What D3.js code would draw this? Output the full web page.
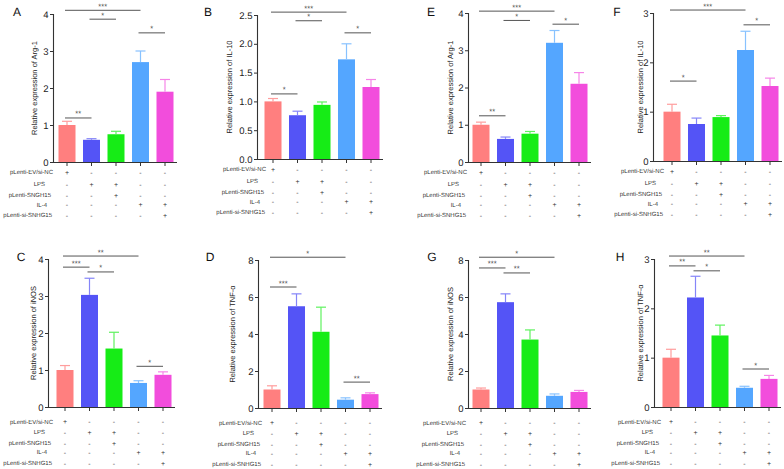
<!DOCTYPE html>
<html><head><meta charset="utf-8">
<script src="https://cdn.jsdelivr.net/npm/d3@7"></script>
<style>body{margin:0;background:#fff}svg{display:block;font-family:"Liberation Sans",Arial,sans-serif;text-rendering:geometricPrecision}</style>
</head><body><svg id="c" width="784" height="469"></svg>
<script>
// ---------- data ----------
const groups = ["G1","G2","G3","G4","G5"];
const rowLabels = ["pLenti-EV/si-NC","LPS","pLenti-SNGH15","IL-4","pLenti-si-SNHG15"];
const signs = [
  ["+","-","-","-","-"],
  ["-","+","+","-","-"],
  ["-","-","+","-","-"],
  ["-","-","-","+","+"],
  ["-","-","-","-","+"]
];
const barColors = ["#ff7f7f","#5454f6","#16ec16","#54a6ff","#f24ddc"];
const errColors = ["#ff9d9d","#8585f8","#5ef25e","#88c2ff","#f685e8"];

const panelLetters = ["A","B","E","F","C","D","G","H"];
const yLabels = ["Relative expression of Arg-1","Relative expression of IL-10","Relative expression of Arg-1","Relative expression of IL-10",
                 "Relative expression of iNOS","Relative expression of TNF-\u03b1","Relative expression of iNOS","Relative expression of TNF-\u03b1"];
const yMaxes = [4, 2.5, 4, 3, 4, 8, 8, 3];
const yTickVals = [[0,1,2,3,4],[0,0.5,1,1.5,2,2.5],[0,1,2,3,4],[0,1,2,3],[0,1,2,3,4],[0,2,4,6,8],[0,2,4,6,8],[0,1,2,3]];

const meansA = [1.00, 0.60, 0.75, 2.70, 1.90];
const errA   = [1.10, 0.63, 0.83, 3.00, 2.23];
const sigA   = [[0,3,4.10,"***"],[1,2,3.86,"*"],[3,4,3.49,"*"],[0,1,1.19,"**"]];

const meansB = [1.00, 0.76, 0.94, 1.73, 1.25];
const errB   = [1.05, 0.83, 0.99, 2.00, 1.38];
const sigB   = [[0,3,2.55,"***"],[1,2,2.40,"*"],[3,4,2.19,"*"],[0,1,1.13,"*"]];

const meansE = [1.00, 0.62, 0.76, 3.20, 2.10];
const errE   = [1.07, 0.67, 0.82, 3.53, 2.40];
const sigE   = [[0,3,4.05,"***"],[1,2,3.80,"*"],[3,4,3.70,"*"],[0,1,1.24,"**"]];

const meansF = [1.00, 0.75, 0.89, 2.25, 1.52];
const errF   = [1.15, 0.87, 0.92, 2.63, 1.68];
const sigF   = [[0,3,3.06,"***"],[3,4,2.76,"*"],[0,1,1.62,"*"]];

const meansC = [1.00, 3.03, 1.58, 0.65, 0.87];
const errC   = [1.12, 3.48, 2.02, 0.71, 0.95];
const sigC   = [[0,3,4.08,"**"],[0,1,3.78,"***"],[1,2,3.65,"*"],[3,4,1.10,"*"]];

const meansD = [1.00, 5.50, 4.12, 0.45, 0.75];
const errD   = [1.20, 6.17, 5.45, 0.55, 0.82];
const sigD   = [[0,3,8.15,"*"],[0,1,6.54,"***"],[3,4,1.40,"**"]];

const meansG = [1.00, 5.72, 3.70, 0.66, 0.87];
const errG   = [1.08, 6.17, 4.22, 0.76, 0.95];
const sigG   = [[0,3,8.15,"*"],[0,1,7.57,"***"],[1,2,7.30,"**"]];

const meansH = [1.00, 2.22, 1.45, 0.39, 0.57];
const errH   = [1.17, 2.65, 1.66, 0.42, 0.64];
const sigH   = [[0,3,3.06,"**"],[0,1,2.86,"**"],[1,2,2.76,"*"],[3,4,0.77,"*"]];

const allMeans = [meansA, meansB, meansE, meansF, meansC, meansD, meansG, meansH];
const allErr   = [errA, errB, errE, errF, errC, errD, errG, errH];
const allSig   = [sigA, sigB, sigE, sigF, sigC, sigD, sigG, sigH];

// ---------- layout ----------
const layout = [
  {ax:53,  y0:162, y1:14,  c0:67,  lab:-19, end:53,  lx:17,  ly:12},
  {ax:257, y0:159, y1:15,  c0:273, lab:-28, end:266, lx:208, ly:12},
  {ax:468, y0:162, y1:13,  c0:481, lab:-18, end:467, lx:431, ly:12},
  {ax:653, y0:161, y1:13,  c0:672, lab:-13, end:664, lx:617, ly:12},
  {ax:48,  y0:407, y1:259, c0:65,  lab:-15, end:53,  lx:21,  ly:257},
  {ax:258, y0:408, y1:260, c0:272, lab:-26, end:262, lx:210, ly:257},
  {ax:468, y0:408, y1:260, c0:481, lab:-18, end:466, lx:432, ly:257},
  {ax:654, y0:407, y1:259, c0:671, lab:-14, end:661, lx:620, ly:257}
];
const rowOffTop = [11, 23, 34, 43.5, 54];
const rowOffBot = [15.5, 26, 37, 46, 57];
const rowShift = [0, -8, -2, -6, -1];
const step = 24.5, barW = 17;

const svg = d3.select("#c");

panelLetters.forEach((letter, p) => {
  const L = layout[p];
  const g = svg.append("g");
  const x = d3.scalePoint().domain(groups).range([L.c0, L.c0 + 4*step]);
  const y = d3.scaleLinear().domain([0, yMaxes[p]]).range([L.y0, L.y1]);
  const means = allMeans[p], errs = allErr[p];

  // bars
  g.selectAll("rect.bar").data(groups).join("rect")
    .attr("x", d => x(d) - barW/2).attr("width", barW)
    .attr("y", (d,i) => y(means[i])).attr("height", (d,i) => y(0) - y(means[i]))
    .attr("fill", (d,i) => barColors[i]);

  // error bars (upper)
  groups.forEach((d,i) => {
    const cx = x(d);
    g.append("line").attr("x1", cx).attr("x2", cx).attr("y1", y(means[i])).attr("y2", y(errs[i]))
      .attr("stroke", errColors[i]).attr("stroke-width", 1.2);
    g.append("line").attr("x1", cx - 5).attr("x2", cx + 5).attr("y1", y(errs[i])).attr("y2", y(errs[i]))
      .attr("stroke", errColors[i]).attr("stroke-width", 1.2);
  });

  // y axis
  const fmt = yMaxes[p] === 2.5 ? d3.format(".1f") : d3.format("d");
  const ya = g.append("g").attr("transform", `translate(${L.ax},0)`)
    .call(d3.axisLeft(y).tickValues(yTickVals[p]).tickFormat(fmt).tickSize(3).tickPadding(1.5));
  ya.select(".domain").attr("stroke", "#333").attr("stroke-width", 1.1);
  ya.selectAll(".tick line").attr("stroke", "#333");
  ya.selectAll(".tick text").attr("font-size", 9.5).attr("fill", "#222").attr("font-family", "Liberation Sans, Arial, sans-serif");

  // x axis line + ticks
  const xEnd = L.c0 + 4*step + 12;
  g.append("line").attr("x1", L.ax).attr("x2", xEnd).attr("y1", L.y0 + 0.5).attr("y2", L.y0 + 0.5)
    .attr("stroke", "#333").attr("stroke-width", 1.1);
  groups.forEach(d => {
    g.append("line").attr("x1", x(d)).attr("x2", x(d)).attr("y1", L.y0).attr("y2", L.y0 + 4)
      .attr("stroke", "#333").attr("stroke-width", 1);
  });

  // y label
  g.append("text").attr("transform", `translate(${L.ax + L.lab},${(L.y0 + L.y1)/2}) rotate(-90)`)
    .attr("text-anchor", "middle").attr("dominant-baseline", "central")
    .attr("font-size", 7.5).attr("fill", "#222").text(yLabels[p]);

  // panel letter
  g.append("text").attr("x", L.lx).attr("y", L.ly).attr("text-anchor", "middle").attr("dominant-baseline", "central")
    .attr("font-size", 12).attr("fill", "#111").text(letter);

  // significance
  allSig[p].forEach(([i, j, v, s]) => {
    const yy = y(v);
    g.append("line").attr("x1", x(groups[i]) - 2).attr("x2", x(groups[j])).attr("y1", yy).attr("y2", yy)
      .attr("stroke", "#555").attr("stroke-width", 1);
    g.append("text").attr("x", (x(groups[i]) + x(groups[j]))/2 - 1).attr("y", yy - 1.5)
      .attr("text-anchor", "middle").attr("font-size", 7.5).attr("fill", "#444").text(s);
  });

  // condition rows
  const offs = p < 4 ? rowOffTop : rowOffBot;
  rowLabels.forEach((lab, r) => {
    const ry = L.y0 + offs[r];
    g.append("text").attr("x", L.end + rowShift[r]).attr("y", ry).attr("text-anchor", "end")
      .attr("dominant-baseline", "central").attr("font-size", 6).attr("fill", "#333").text(lab);
    groups.forEach((d, c) => {
      g.append("text").attr("x", x(d)).attr("y", ry).attr("text-anchor", "middle")
        .attr("dominant-baseline", "central").attr("font-size", 7).attr("fill", "#333").text(signs[r][c]);
    });
  });
});
</script></body></html>
